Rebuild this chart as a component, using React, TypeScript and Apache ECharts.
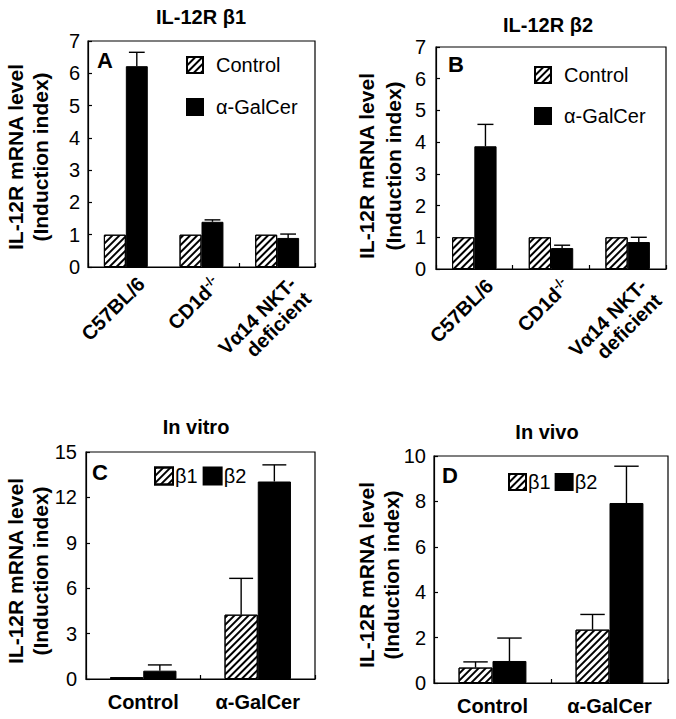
import React, { useEffect, useRef } from 'react';
import * as echarts from 'echarts';

// ---------- data ----------
const categoriesAB = ['C57BL/6', 'CD1d-/-', 'Vα14 NKT-\ndeficient'];
const categoriesCD = ['Control', 'α-GalCer'];

// Panel A: IL-12R β1
const aControl = [1.0, 1.0, 1.0];
const aGalCer = [6.22, 1.4, 0.9];
const aGalCerUpper = [6.65, 1.46, 1.02];

// Panel B: IL-12R β2
const bControl = [1.0, 1.0, 1.0];
const bGalCer = [3.87, 0.66, 0.85];
const bGalCerUpper = [4.56, 0.75, 1.0];

// Panel C: In vitro
const cBeta1 = [0.12, 4.25];
const cBeta1Upper = [null, 6.65];
const cBeta2 = [0.55, 13.05];
const cBeta2Upper = [0.93, 14.15];

// Panel D: In vivo
const dBeta1 = [0.68, 2.35];
const dBeta1Upper = [0.93, 3.02];
const dBeta2 = [0.97, 7.93];
const dBeta2Upper = [1.98, 9.55];

const titles = ['IL-12R β1', 'IL-12R β2', 'In vitro', 'In vivo'];
const panelLetters = ['A', 'B', 'C', 'D'];
const yName1 = 'IL-12R mRNA level';
const yName2 = '(Induction index)';
// ---------------------------

const FONT = '"Liberation Sans", Arial, Helvetica, sans-serif';
const GAP = 0.42;

const hatch = {
  symbol: 'rect',
  symbolSize: 1,
  color: '#000',
  backgroundColor: '#fff',
  dashArrayX: [1, 0],
  dashArrayY: [1.3, 3],
  rotation: -Math.PI / 4,
};

function errSeries(name: string, axisIndex: number, means: number[], uppers: (number | null)[], side: number) {
  const data: number[][] = [];
  means.forEach((m, i) => {
    const u = uppers[i];
    if (u != null) data.push([i, m, u]);
  });
  return {
    type: 'custom',
    name,
    xAxisIndex: axisIndex,
    yAxisIndex: axisIndex,
    silent: true,
    z: 3,
    encode: { x: 0, y: [1, 2] },
    data,
    renderItem: (params: any, api: any) => {
      const i = api.value(0);
      const m = api.value(1);
      const u = api.value(2);
      const band = api.size([1, 0])[0];
      const bw = (band * (1 - GAP)) / 2;
      const base = api.coord([i, m]);
      const top = api.coord([i, u]);
      const x = base[0] + (side * bw) / 2;
      const cap = bw * 0.72;
      const st = { stroke: '#000', lineWidth: 1.4 };
      return {
        type: 'group',
        children: [
          { type: 'line', shape: { x1: x, y1: base[1], x2: x, y2: top[1] }, style: st },
          { type: 'line', shape: { x1: x - cap / 2, y1: top[1], x2: x + cap / 2, y2: top[1] }, style: st },
        ],
      };
    },
  };
}

// 45° category labels, placed through the category axis scale
function labelSeries(name: string, axisIndex: number, cats: string[]) {
  return {
    type: 'custom',
    name,
    xAxisIndex: axisIndex,
    yAxisIndex: axisIndex,
    silent: true,
    clip: false,
    z: 5,
    data: cats.map((_, i) => [i, 0]),
    renderItem: (params: any, api: any) => {
      const i = api.value(0);
      const p = api.coord([i, 0]);
      const raw = cats[i];
      const text = raw === 'CD1d-/-' ? '{n|CD1d}{s|-/-}' : raw;
      return {
        type: 'group',
        x: p[0] + 8,
        y: p[1] + 6,
        rotation: Math.PI / 4,
        children: [
          {
            type: 'text',
            x: 0,
            y: 0,
            style: {
              text,
              fill: '#000',
              fontSize: 20,
              fontWeight: 'bold',
              fontFamily: FONT,
              lineHeight: 21,
              align: 'right',
              verticalAlign: 'top',
              rich: {
                n: { fontSize: 20, fontWeight: 'bold', fontFamily: FONT, fill: '#000', lineHeight: 21 },
                s: { fontSize: 13, fontWeight: 'bold', fontFamily: FONT, fill: '#000', lineHeight: 21, padding: [0, 0, 10, 0] },
              },
            },
          },
        ],
      };
    },
  };
}

function barSeries(name: string, axisIndex: number, values: number[], hatched: boolean) {
  return {
    type: 'bar',
    name,
    xAxisIndex: axisIndex,
    yAxisIndex: axisIndex,
    data: values,
    barGap: '0%',
    barCategoryGap: GAP * 100 + '%',
    silent: true,
    itemStyle: hatched
      ? { color: '#fff', borderColor: '#000', borderWidth: 1, decal: hatch }
      : { color: '#000', borderColor: '#000', borderWidth: 1 },
  };
}

const grids = [
  { left: 88, top: 41, width: 227, height: 226 },
  { left: 436, top: 47, width: 230, height: 222 },
  { left: 86, top: 452, width: 229, height: 227 },
  { left: 434, top: 456, width: 234, height: 227 },
];

const yRanges = [
  { max: 7, interval: 1, margin: 8 },
  { max: 7, interval: 1, margin: 10 },
  { max: 15, interval: 3, margin: 9 },
  { max: 10, interval: 2, margin: 8 },
];

export default function App() {
  const ref = useRef<HTMLDivElement>(null);
  useEffect(() => {
    document.body.style.margin = '0';
    if (!ref.current) return;
    const chart = echarts.init(ref.current, null, { renderer: 'svg' });

    const xAxes = grids.map((_, gi) => {
      const ab = gi < 2;
      return {
        type: 'category',
        gridIndex: gi,
        data: ab ? categoriesAB : categoriesCD,
        axisLine: { show: true, lineStyle: { color: '#000', width: 1.2 } },
        axisTick: { show: true, inside: true, length: 4, lineStyle: { color: '#000', width: 1.2 } },
        splitLine: { show: false },
        axisLabel: ab
          ? { show: false }
          : { interval: 0, margin: 13, color: '#000', fontSize: 20, fontWeight: 'bold', fontFamily: FONT },
      };
    });

    const yAxes = grids.map((_, gi) => ({
      type: 'value',
      gridIndex: gi,
      min: 0,
      max: yRanges[gi].max,
      interval: yRanges[gi].interval,
      axisLine: { show: true, lineStyle: { color: '#000', width: 1.2 } },
      axisTick: { show: true, inside: true, length: 4, lineStyle: { color: '#000', width: 1.2 } },
      splitLine: { show: false },
      axisLabel: { color: '#000', fontSize: 20, fontFamily: FONT, margin: yRanges[gi].margin },
    }));

    const legendText = { color: '#000', fontSize: 20, fontFamily: FONT };
    const legends = [
      { left: 186, top: 55, orient: 'vertical', itemWidth: 16, itemHeight: 16, itemGap: 22, data: ['Control', 'α-GalCer'], textStyle: { ...legendText, padding: [0, 0, 0, 8] } },
      { left: 534, top: 65, orient: 'vertical', itemWidth: 16, itemHeight: 16, itemGap: 21, data: ['Control', 'α-GalCer'], textStyle: { ...legendText, padding: [0, 0, 0, 8] } },
      { left: 154, top: 466, orient: 'horizontal', itemWidth: 18, itemHeight: 17, itemGap: 5, data: ['β1', 'β2'], textStyle: { ...legendText, padding: [0, 0, 0, -3] } },
      { left: 508, top: 472, orient: 'horizontal', itemWidth: 17, itemHeight: 16, itemGap: 4, data: ['β1', 'β2'], textStyle: { ...legendText, padding: [0, 0, 0, -3] } },
    ].map((l) => ({ ...l, icon: 'rect', padding: 0, selectedMode: false }));

    const titlePos = [
      [201, 17],
      [548, 25],
      [196, 427],
      [547, 432],
    ];
    const letterPos = [
      [97, 60],
      [448, 64],
      [92, 472],
      [442, 475],
    ];
    const yNamePos = [
      [15, 40, 157],
      [366, 393, 166],
      [15, 40, 571],
      [366, 391, 575],
    ];
    const graphics: any[] = [];
    titles.forEach((t, i) => {
      graphics.push({
        type: 'text', x: titlePos[i][0], y: titlePos[i][1], silent: true,
        style: { text: t, fill: '#000', font: `bold 20px ${FONT}`, align: 'center', verticalAlign: 'middle' },
      });
    });
    panelLetters.forEach((t, i) => {
      graphics.push({
        type: 'text', x: letterPos[i][0], y: letterPos[i][1], silent: true,
        style: { text: t, fill: '#000', font: `bold 22px ${FONT}`, align: 'left', verticalAlign: 'middle' },
      });
    });
    yNamePos.forEach((p) => {
      graphics.push({
        type: 'text', x: p[0], y: p[2], rotation: Math.PI / 2, silent: true,
        style: { text: yName1, fill: '#000', font: `bold 21px ${FONT}`, align: 'center', verticalAlign: 'middle' },
      });
      graphics.push({
        type: 'text', x: p[1], y: p[2], rotation: Math.PI / 2, silent: true,
        style: { text: yName2, fill: '#000', font: `bold 21px ${FONT}`, align: 'center', verticalAlign: 'middle' },
      });
    });

    chart.setOption({
      animation: false,
      backgroundColor: '#fff',
      textStyle: { fontFamily: FONT },
      grid: grids.map((g) => ({ ...g, show: true, borderColor: '#000', borderWidth: 1.2, backgroundColor: 'transparent', containLabel: false })),
      xAxis: xAxes,
      yAxis: yAxes,
      legend: legends,
      graphic: graphics,
      series: [
        barSeries('Control', 0, aControl, true),
        barSeries('α-GalCer', 0, aGalCer, false),
        errSeries('errA', 0, aGalCer, aGalCerUpper, 1),
        labelSeries('lblA', 0, categoriesAB),
        barSeries('Control', 1, bControl, true),
        barSeries('α-GalCer', 1, bGalCer, false),
        errSeries('errB', 1, bGalCer, bGalCerUpper, 1),
        labelSeries('lblB', 1, categoriesAB),
        barSeries('β1', 2, cBeta1, true),
        barSeries('β2', 2, cBeta2, false),
        errSeries('errC1', 2, cBeta1, cBeta1Upper, -1),
        errSeries('errC2', 2, cBeta2, cBeta2Upper, 1),
        barSeries('β1', 3, dBeta1, true),
        barSeries('β2', 3, dBeta2, false),
        errSeries('errD1', 3, dBeta1, dBeta1Upper, -1),
        errSeries('errD2', 3, dBeta2, dBeta2Upper, 1),
      ],
    });
    return () => chart.dispose();
  }, []);
  return <div ref={ref} style={{ width: 676, height: 719 }} />;
}
